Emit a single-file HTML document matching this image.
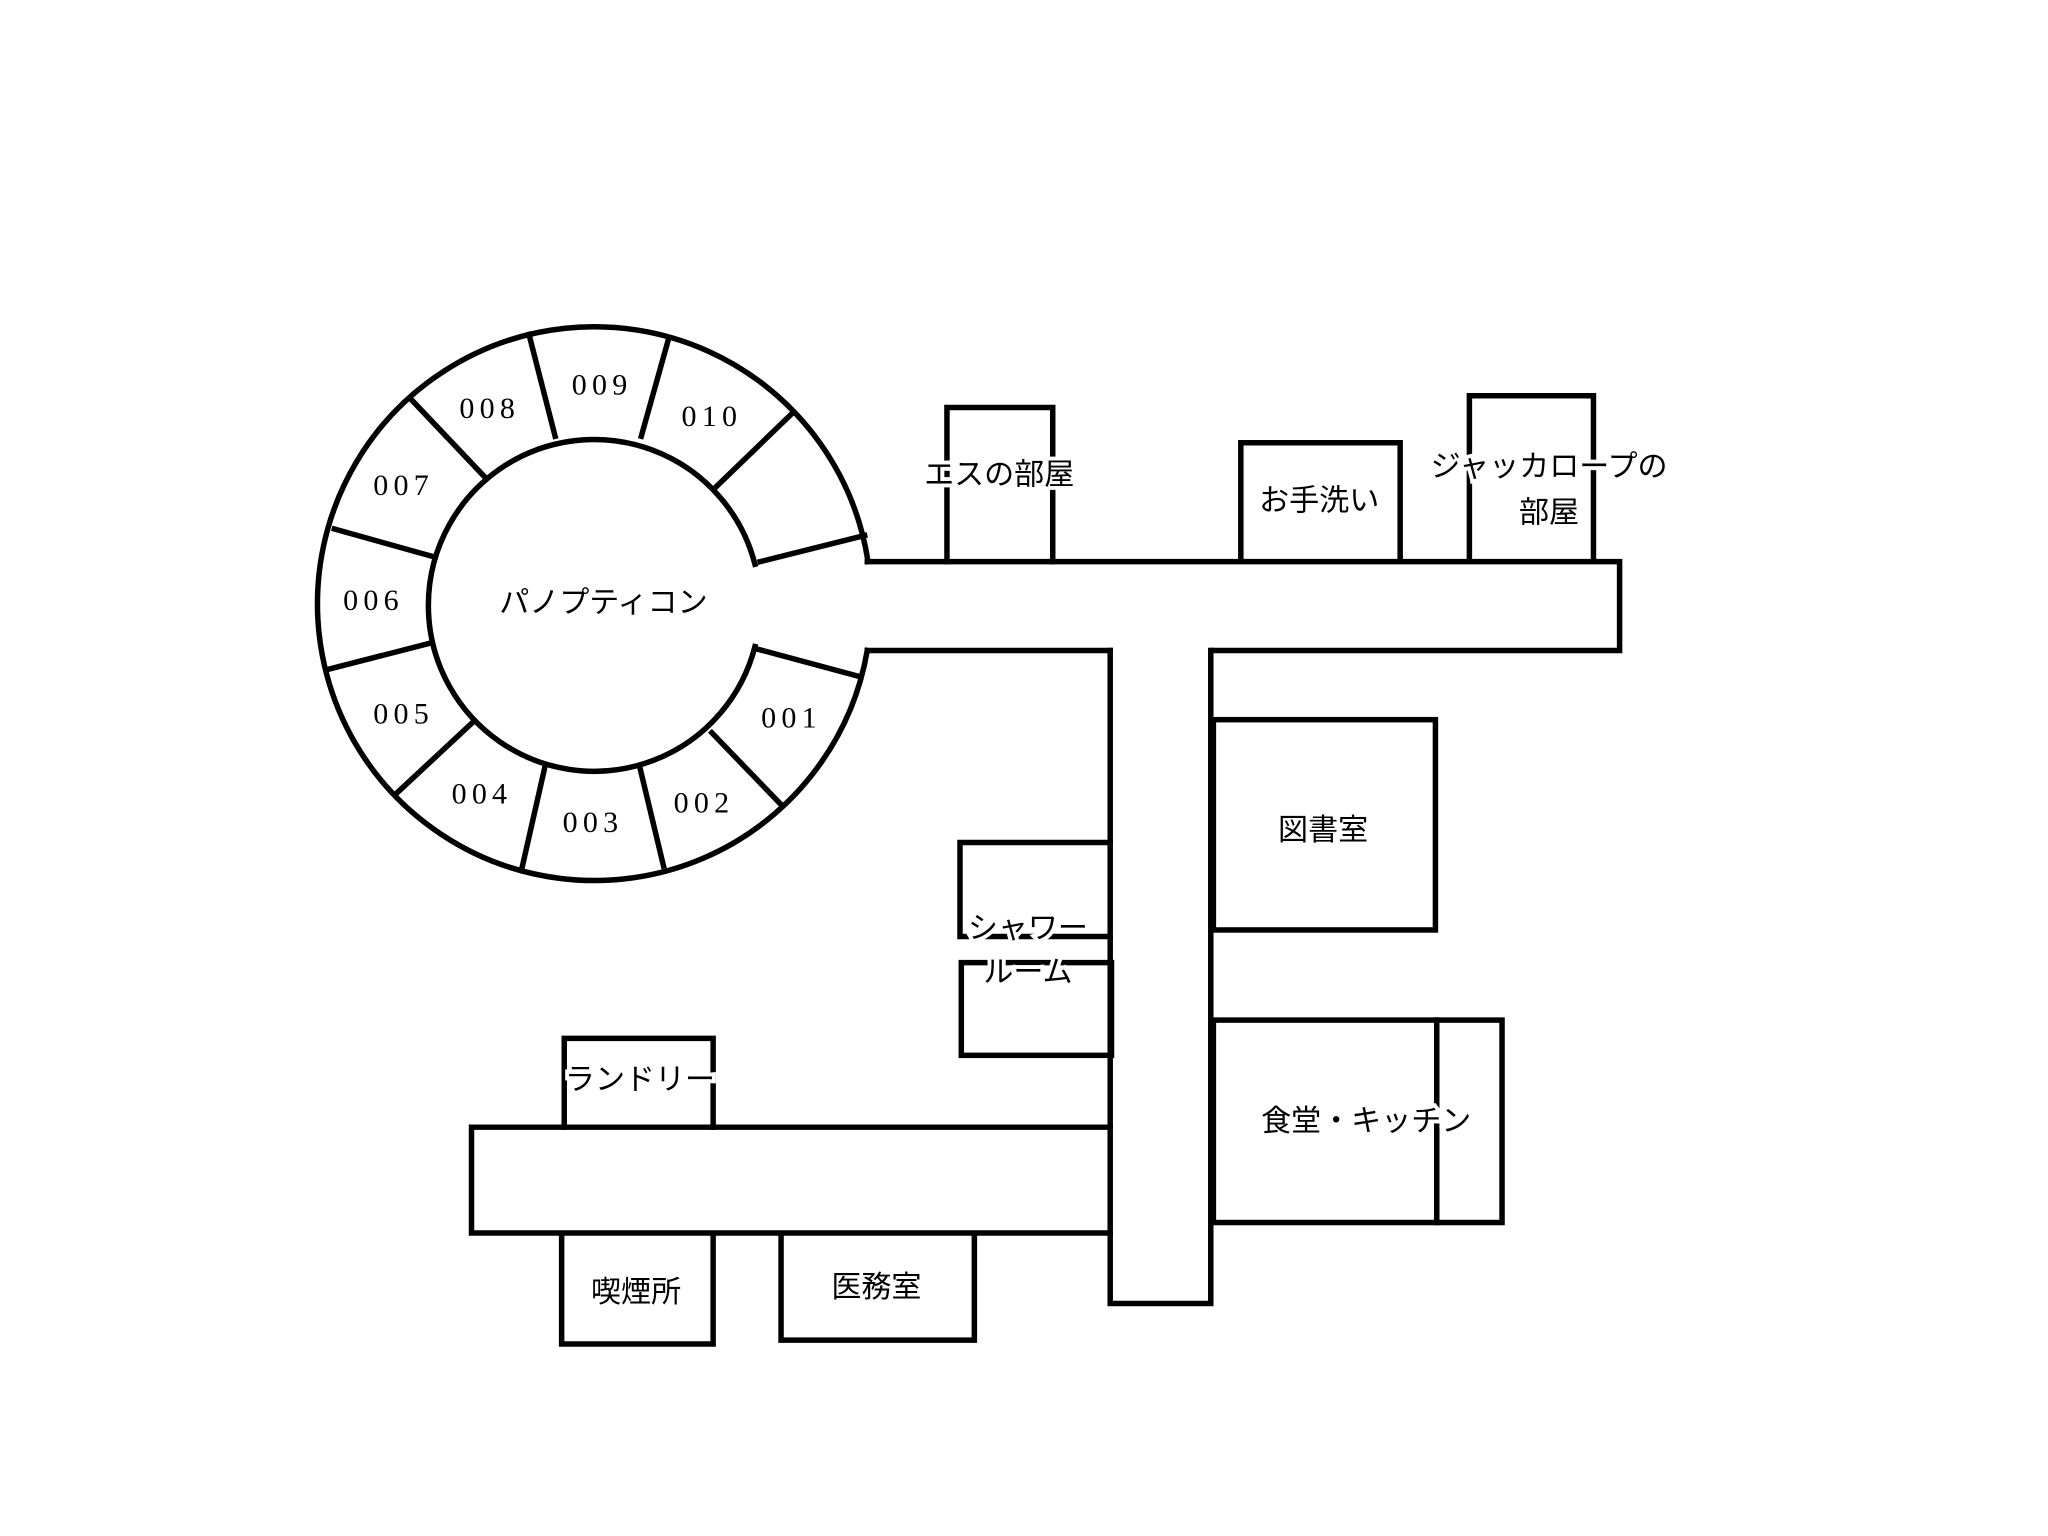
<!DOCTYPE html>
<html><head><meta charset="utf-8"><style>
html,body{margin:0;padding:0;background:#fff;}
svg{display:block;}
.j{font-family:"Liberation Sans","Noto Sans CJK JP",sans-serif;font-size:23px;fill:#000;text-anchor:middle;}
.n{font-family:"Liberation Serif","DejaVu Serif",serif;font-size:23px;fill:#000;text-anchor:middle;letter-spacing:4px;}
.h{paint-order:stroke;stroke:#fff;stroke-width:6px;}
</style></head><body>
<svg width="2048" height="1536" viewBox="0 0 1568 1176" preserveAspectRatio="none" xmlns="http://www.w3.org/2000/svg">
<rect width="1568" height="1176" fill="#fff"/>
<g fill="none" stroke="#000" stroke-width="4.2" stroke-linecap="square">
<path d="M664.6,430 A212,212 0 1 0 664,498"/>
<path d="M578,432 A127,127 0 1 0 578,495"/>
<line x1="549" y1="372" x2="607" y2="316"/>
<line x1="491" y1="334" x2="512" y2="259"/>
<line x1="425" y1="334" x2="405" y2="256"/>
<line x1="370" y1="364" x2="315" y2="306"/>
<line x1="331" y1="426" x2="256" y2="405"/>
<line x1="331" y1="492" x2="253" y2="512"/>
<line x1="362" y1="553" x2="304" y2="607"/>
<line x1="417" y1="588" x2="400" y2="663"/>
<line x1="490" y1="588" x2="508" y2="663"/>
<line x1="545" y1="561" x2="598" y2="616"/>
<line x1="580" y1="497" x2="658" y2="518"/>
<line x1="582" y1="430" x2="662" y2="410"/>
<path d="M664,430 H1240 V498 H928 M850,498 H664"/>
<path d="M850,498 V998 H927 V498"/>
<path d="M850,863 H361 V944 H850"/>
<path d="M725,430 V312 H806 V430"/>
<path d="M950,428 V339 H1072 V428"/>
<path d="M1125,428 V303 H1220 V428"/>
<rect x="929" y="551" width="170" height="161"/>
<path d="M850,645 H735 V717 H850"/>
<rect x="736" y="737" width="115" height="71"/>
<rect x="929" y="781" width="171" height="155"/>
<rect x="1100" y="781" width="50" height="155"/>
<path d="M432,863 V795 H546 V863"/>
<path d="M430,946 V1029 H546 V946"/>
<path d="M598,946 V1026 H746 V946"/>
</g>
<g>
<text class="n" x="545" y="326">010</text>
<text class="n" x="461" y="302">009</text>
<text class="n" x="375" y="320">008</text>
<text class="n" x="309" y="379">007</text>
<text class="n" x="286" y="467">006</text>
<text class="n" x="309" y="554">005</text>
<text class="n" x="369" y="615">004</text>
<text class="n" x="454" y="637">003</text>
<text class="n" x="539" y="622">002</text>
<text class="n" x="606" y="557">001</text>
<text class="j" x="462" y="469">パノプティコン</text>
<text class="j h" x="765" y="371">エスの部屋</text>
<text class="j" x="1010" y="391">お手洗い</text>
<text class="j h" x="1186" y="365">ジャッカロープの</text>
<text class="j h" x="1186" y="400">部屋</text>
<text class="j" x="1013" y="643">図書室</text>
<text class="j h" x="787" y="718">シャワー</text>
<text class="j h" x="787" y="752">ルーム</text>
<text class="j h" x="1046" y="866">食堂・キッチン</text>
<text class="j h" x="490" y="834">ランドリー</text>
<text class="j" x="487" y="997">喫煙所</text>
<text class="j" x="671" y="993">医務室</text>
</g>
</svg>
</body></html>
